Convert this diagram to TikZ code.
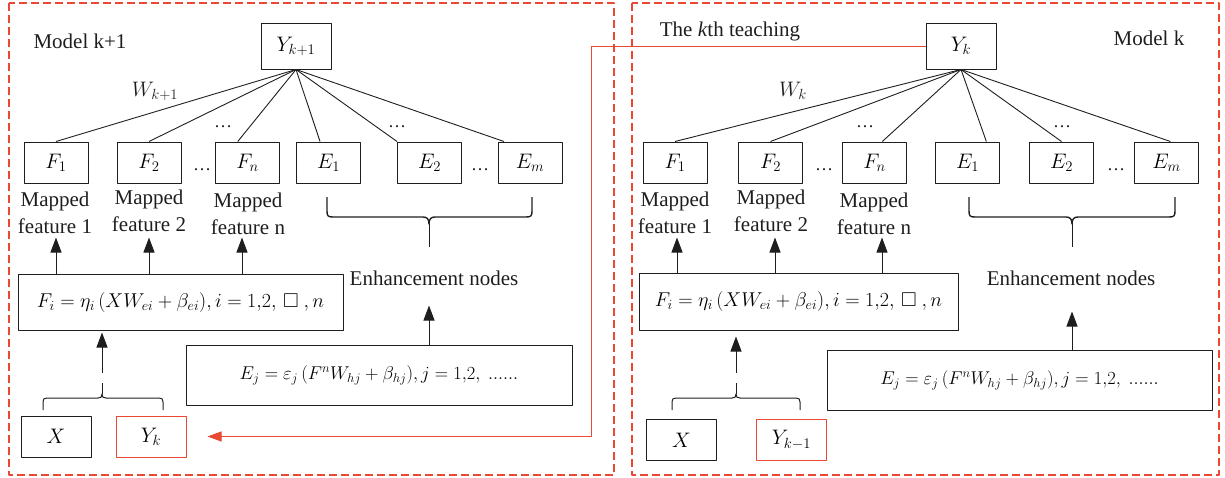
\RequirePackage{fix-cm}
\documentclass[tikz,border=0pt]{standalone}
\usepackage{amssymb}
\usepackage{fontspec}
\setmainfont{Liberation Serif}
\usetikzlibrary{arrows.meta,calc}
\definecolor{myred}{RGB}{234,72,50}
\definecolor{ink}{RGB}{30,30,30}
\tikzset{
  dframe/.style={draw=myred, color=myred, line width=1.2pt, dash pattern=on 8pt off 4pt},
  ybox/.style={draw=ink, line width=1pt, minimum width=70pt, minimum height=46pt, inner sep=0pt, font=\fontsize{21}{25}\selectfont},
  nbox/.style={draw=ink, line width=1pt, minimum width=64pt, minimum height=41pt, inner sep=0pt, font=\fontsize{21}{25}\selectfont},
  ibox/.style={draw=ink, line width=1pt, minimum width=70pt, minimum height=41pt, inner sep=0pt, font=\fontsize{21}{25}\selectfont},
  eqbox/.style={draw=ink, line width=1pt, inner sep=0pt, font=\fontsize{20}{24}\selectfont},
  eqboxs/.style={draw=ink, line width=1pt, inner sep=0pt, font=\fontsize{18.5}{22}\selectfont},
  txt/.style={inner sep=0pt, text=ink, font=\fontsize{21}{25}\selectfont},
  mtxt/.style={inner sep=0pt, text=ink, font=\fontsize{21}{25}\selectfont},
  lbl/.style={inner sep=0pt, text=ink, align=center, font=\fontsize{21}{27}\selectfont},
  wire/.style={draw=ink, line width=0.9pt},
  brc/.style={draw=ink, line width=1.4pt},
  lbrc/.style={draw=ink, line width=1pt},
  arr/.style={draw=ink, line width=1pt, -{Triangle[length=15pt,width=11pt]}},
  rarr/.style={draw=myred, line width=1pt, -{Triangle[length=14pt,width=10pt]}},
  dots/.style={inner sep=0pt, anchor=base, text=ink, font=\fontsize{18}{22}\selectfont},
}
\begin{document}
\begin{tikzpicture}[x=1pt,y=-1pt,line join=round]
\useasboundingbox (0,0) rectangle (1225,477);
% frames
\draw[dframe] (9,3) rectangle (614,475);
\draw[dframe] (632,3) rectangle (1219,475);

% ===== Left: Model k+1 =====
\node[txt] (LT) at (80,41) {Model k+1};
\node[ybox] (LY) at (296,46) {$Y_{k+1}$};
\node[mtxt] (LW) at (155,91) {$W_{k+1}$};
\node[nbox] (LF1) at (56,162.5) {$F_1$};
\node[nbox] (LF2) at (149,162.5) {$F_2$};
\node[nbox] (LFn) at (247.5,162.5) {$F_n$};
\node[nbox] (LE1) at (328.5,162.5) {$E_1$};
\node[nbox] (LE2) at (429.5,162.5) {$E_2$};
\node[nbox] (LEm) at (530,162.5) {$E_m$};
\node[dots] (Ld1) at (223,127) {\dots};
\node[dots] (Ld2) at (397,127) {\dots};
\node[dots] (Ld3) at (202,170) {\dots};
\node[dots] (Ld4) at (480,170) {\dots};
\draw[wire] (LY.south) -- (LF1.north);
\draw[wire] (LY.south) -- (LF2.north);
\draw[wire] (LY.south) -- ($(LFn.north west)!0.35!(LFn.north east)$);
\draw[wire] (LY.south) -- ($(LE1.north west)!0.37!(LE1.north east)$);
\draw[wire] (LY.south) -- (LE2.north west);
\draw[wire] (LY.south) -- ($(LEm.north west)!0.1!(LEm.north east)$);
\node[lbl] (LM1) at (55,213) {Mapped\\feature 1};
\node[lbl] (LM2) at (149,211) {Mapped\\feature 2};
\node[lbl] (LMn) at (248,214) {Mapped\\feature n};
\node[eqbox, minimum width=325pt, minimum height=56pt] (LFB) at (180.5,302)
  {$F_i = \eta_i\,(XW_{ei} + \beta_{ei}), i = 1{,}2,\, \square\ , n$};
\draw[arr] (LFB.north -| 56,0) -- ++(0,-36);
\draw[arr] (LFB.north -| 149,0) -- ++(0,-36);
\draw[arr] (LFB.north -| 242,0) -- ++(0,-36);
% upper brace
\coordinate (Lut) at (429,224);
\draw[brc] (327,197) -- (327,211) .. controls (327,216) and (328,217) .. (333,217) -- (423,217)
  .. controls (427,217) and (429,219) .. (Lut) .. controls (429,219) and (431,217) .. (435,217)
  -- (526,217) .. controls (531,217) and (532,216) .. (532,211) -- (532,197);
\coordinate (Lub) at (429,247);
\draw[wire] (Lut) -- (Lub);
\node[txt] (LEn) at (434,278) {Enhancement nodes};
\node[eqboxs, minimum width=386pt, minimum height=60pt] (LEB) at (379,375)
  {$E_j = \varepsilon_j\,(F^nW_{hj} + \beta_{hj}), j = 1{,}2,\ {......}$};
\draw[arr] (LEB.north -| Lut) -- ++(0,-39);
% inputs
\node[ibox] (LX) at (56,436.5) {$X$};
\node[ibox, draw=myred] (LYk) at (151,436.5) {$Y_k$};
\coordinate (Lbt) at (102,394);
\draw[lbrc] (43,410) -- (43,402) .. controls (43,399) and (44,398) .. (47,398) -- (98,398)
  .. controls (101,398) and (102,397) .. (Lbt) .. controls (102,397) and (103,398) .. (106,398)
  -- (159,398) .. controls (162,398) and (163,399) .. (163,402) -- (163,410);
\coordinate (Lg1) at (102,383);
\coordinate (Lg2) at (102,373);
\draw[wire] (Lbt) -- (Lg1);
\draw[arr] (Lg2) -- ([yshift=-2pt]LFB.south -| Lg2);

% ===== Right: Model k =====
\node[txt] (RT) at (1149,38) {Model k};
\node[txt] (RTeach) at (730,31) {The \emph{k}th teaching};
\node[ybox] (RY) at (961,46) {$Y_k$};
\node[mtxt] (RW) at (793,91) {$W_k$};
\node[nbox] (RF1) at (675,162.5) {$F_1$};
\node[nbox] (RF2) at (770.5,162.5) {$F_2$};
\node[nbox] (RFn) at (874.5,162.5) {$F_n$};
\node[nbox] (RE1) at (967.5,162.5) {$E_1$};
\node[nbox] (RE2) at (1061.5,162.5) {$E_2$};
\node[nbox] (REm) at (1166.5,162.5) {$E_m$};
\node[dots] (Rd1) at (865,127) {\dots};
\node[dots] (Rd2) at (1062,127) {\dots};
\node[dots] (Rd3) at (824,170) {\dots};
\node[dots] (Rd4) at (1116,170) {\dots};
\draw[wire] (RY.south) -- (RF1.north);
\draw[wire] (RY.south) -- (RF2.north);
\draw[wire] (RY.south) -- ($(RFn.north west)!0.62!(RFn.north east)$);
\draw[wire] (RY.south) -- ($(RE1.north west)!0.79!(RE1.north east)$);
\draw[wire] (RY.south) -- (RE2.north);
\draw[wire] (RY.south) -- ($(REm.north west)!0.56!(REm.north east)$);
\node[lbl] (RM1) at (675,213) {Mapped\\feature 1};
\node[lbl] (RM2) at (771,211) {Mapped\\feature 2};
\node[lbl] (RMn) at (874,214) {Mapped\\feature n};
\node[eqbox, minimum width=319pt, minimum height=57pt] (RFB) at (798.5,301.5)
  {$F_i = \eta_i\,(XW_{ei} + \beta_{ei}), i = 1{,}2,\, \square\ , n$};
\draw[arr] (RFB.north -| 677,0) -- ++(0,-35);
\draw[arr] (RFB.north -| 775,0) -- ++(0,-35);
\draw[arr] (RFB.north -| 882,0) -- ++(0,-35);
\coordinate (Rut) at (1072,224);
\draw[brc] (969,197) -- (969,211) .. controls (969,216) and (970,217) .. (975,217) -- (1066,217)
  .. controls (1070,217) and (1072,219) .. (Rut) .. controls (1072,219) and (1074,217) .. (1078,217)
  -- (1169,217) .. controls (1174,217) and (1175,216) .. (1175,211) -- (1175,197);
\coordinate (Rub) at (1072,247);
\draw[wire] (Rut) -- (Rub);
\node[txt] (REn) at (1071,278) {Enhancement nodes};
\node[eqboxs, minimum width=385pt, minimum height=60pt] (REB) at (1019.5,380)
  {$E_j = \varepsilon_j\,(F^nW_{hj} + \beta_{hj}), j = 1{,}2,\ {......}$};
\draw[arr] (REB.north -| Rut) -- ++(0,-38);
\node[ibox] (RX) at (681.5,440) {$X$};
\node[ibox, draw=myred] (RYk) at (791.5,440) {$Y_{k-1}$};
\coordinate (Rbt) at (736,394);
\draw[lbrc] (672,410) -- (672,402) .. controls (672,399) and (673,398) .. (676,398) -- (732,398)
  .. controls (735,398) and (736,397) .. (Rbt) .. controls (736,397) and (737,398) .. (740,398)
  -- (796,398) .. controls (799,398) and (800,399) .. (800,402) -- (800,410);
\coordinate (Rg1) at (736,383);
\coordinate (Rg2) at (736,373);
\draw[wire] (Rbt) -- (Rg1);
\draw[arr] (Rg2) -- ([yshift=-6pt]RFB.south -| Rg2);

% ===== teaching connector =====
\draw[rarr] (RY.west) -- ++(-334,0) |- ([xshift=21pt]LYk.east);
\end{tikzpicture}
\end{document}
